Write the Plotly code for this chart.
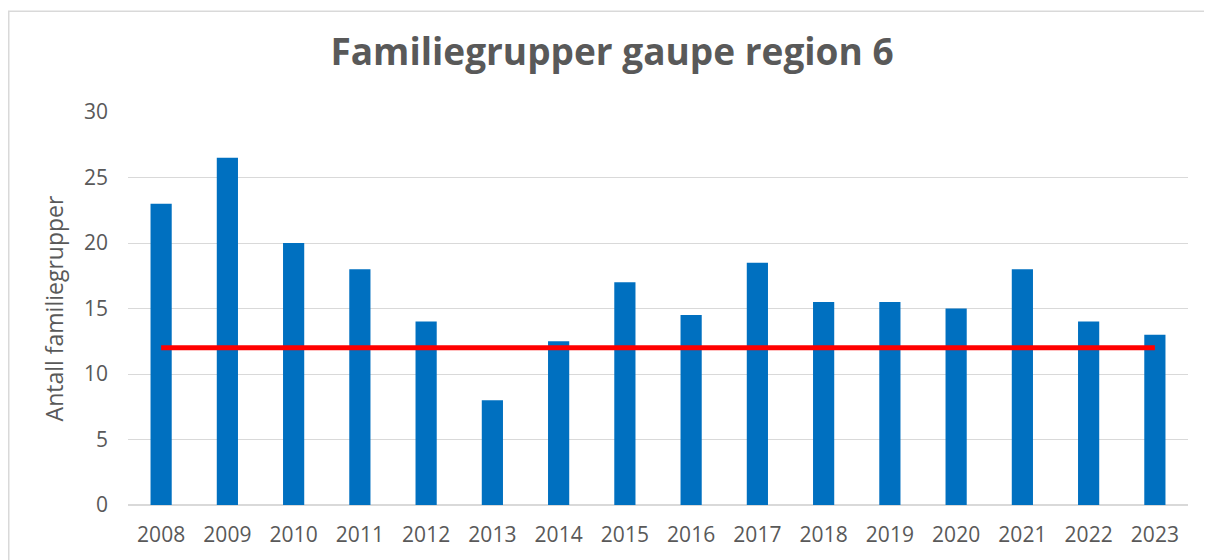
import plotly.graph_objects as go

years = ["2008", "2009", "2010", "2011", "2012", "2013", "2014", "2015",
         "2016", "2017", "2018", "2019", "2020", "2021", "2022", "2023"]
familiegrupper = [23, 26.5, 20, 18, 14, 8, 12.5, 17, 14.5, 18.5, 15.5, 15.5, 15, 18, 14, 13]
bestandsmal = [12] * len(years)

# page body has an 8px margin, so figure coordinates are offset by 8px
W, H = 1204, 552
L, R, T, B = 120, 24, 104, 45
pw, ph = W - L - R, H - T - B

fig = go.Figure()
fig.add_trace(go.Bar(x=years, y=familiegrupper, marker=dict(color="#0070C0", line=dict(width=0)),
                     name="Familiegrupper", hoverinfo="x+y"))
fig.add_trace(go.Scatter(x=years, y=bestandsmal, mode="lines",
                         line=dict(color="#FF0000", width=5), name="Bestandsmål"))

gray = "#595959"
fig.update_layout(
    width=W, height=H,
    margin=dict(l=L, r=R, t=T, b=B),
    paper_bgcolor="white", plot_bgcolor="white",
    showlegend=False,
    bargap=0.68,
    font=dict(family="Open Sans", color=gray),
    title=dict(text="<b>Familiegrupper gaupe region 6</b>",
               font=dict(family="Open Sans", size=37, color=gray),
               x=(604 - L) / pw, xref="paper", xanchor="center",
               y=1 - 44.5 / H, yref="container", yanchor="middle"),
    xaxis=dict(type="category", showgrid=False, showline=False, ticks="",
               tickfont=dict(size=21, color=gray), ticklabelstandoff=15),
    yaxis=dict(range=[0, 30], tickvals=[0, 5, 10, 15, 20, 25, 30], showgrid=True,
               gridcolor="#D9D9D9", gridwidth=1, zeroline=True, zerolinecolor="#D9D9D9",
               zerolinewidth=2, showline=False, ticks="",
               tickfont=dict(size=21, color=gray), ticklabelstandoff=19,
               title=dict(text="Antall familiegrupper", font=dict(size=23, color=gray), standoff=13)),
)

fig.add_shape(type="rect", xref="paper", yref="paper",
              x0=(0.75 - L) / pw, x1=(W + 20 - L) / pw,
              y0=-(B + 20) / ph, y1=1 + (T - 0.75) / ph,
              line=dict(color="#D9D9D9", width=1.5), fillcolor="rgba(0,0,0,0)", layer="below")

fig.write_html("out.html")
